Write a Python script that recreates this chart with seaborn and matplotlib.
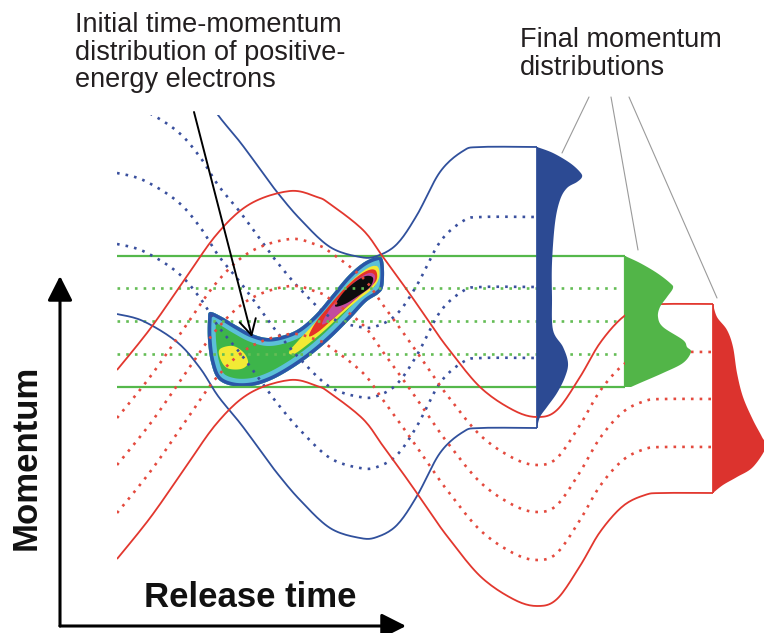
import numpy as np
import pandas as pd
import matplotlib
matplotlib.use("Agg")
import matplotlib.pyplot as plt
from matplotlib.patches import Polygon, Rectangle
import seaborn as sns

# ---------------------------------------------------------------- data
# Canvas units are pixels, y grows downward (time to the right, momentum up).

# Common shape of the blue trajectory family: offset from the final plateau
blue_profile_x = [117, 143, 177, 200, 218, 240, 260, 277, 300, 330, 360, 377,
                  397, 417, 440, 463, 480, 537]
blue_profile_dy = [-114, -107, -86, -60, -32, -5, 22, 45, 72, 100, 110, 109,
                   97, 68, 25, 4, 0, 0]
blue_levels = [147, 217, 287, 358, 428]
blue_solid = [True, False, False, False, True]

# Common shape of the red trajectory family
red_profile_x = [117, 150, 183, 217, 250, 290, 317, 330, 363, 383, 407, 430,
                 447, 480, 513, 537, 557, 580, 600, 623, 645, 662, 713]
red_profile_dy = [66, 25, -22, -70, -100, -113, -107, -100, -74, -47, -14, 19,
                  43, 83, 106, 113, 106, 73, 39, 13, 2, 0, 0]
red_levels = [304, 352, 399, 447, 493]
red_solid = [True, False, False, False, True]

# Green (constant-momentum) band
green_solid_y = [256, 387]
green_dotted_y = [288, 321, 354]

# Final momentum distributions: baseline position, momentum samples, widths
blue_base = 537
blue_dist_y = [147, 153, 163, 172, 177, 182, 188, 200, 223, 263, 297, 330,
               347, 363, 377, 393, 407, 417, 428]
blue_dist_w = [0, 16, 33, 43, 45, 40, 30, 23, 18, 15, 15, 16, 26, 31, 28, 20,
               10, 3, 0]

green_base = 625
green_dist_y = [256, 263, 273, 283, 288, 297, 307, 317, 327, 340, 347, 352,
                363, 373, 383, 387]
green_dist_w = [0, 15, 32, 45, 48, 42, 35, 33, 38, 58, 62, 66, 58, 38, 15, 6]

red_base = 713
red_dist_y = [304, 317, 330, 347, 373, 397, 420, 437, 447, 467, 477, 485, 493]
red_dist_w = [0, 4, 14, 20, 24, 30, 40, 49, 53, 40, 24, 10, 0]

# Initial time-momentum distribution: nested contour outlines
blob_outer = [(210, 312), (222, 317), (237, 326), (252, 334), (268, 338),
              (285, 335), (300, 328), (316, 314), (332, 295), (348, 276),
              (363, 263), (376, 257), (382, 258), (384, 270), (383, 287),
              (378, 294), (366, 302), (351, 318), (331, 338), (311, 355),
              (291, 369), (271, 380), (252, 386), (233, 386), (218, 379),
              (211, 362), (208, 340), (208, 320)]
blob_yellow_left = [(220, 349), (233, 346), (244, 353), (248, 363),
                    (241, 369), (227, 368), (220, 358)]
blob_yellow_right = [(289, 352), (298, 341), (312, 326), (327, 309),
                     (342, 291), (357, 276), (370, 267), (378, 267),
                     (379, 278), (372, 289), (358, 300), (342, 314),
                     (325, 330), (307, 345), (294, 354)]
blob_red = [(309, 336), (316, 322), (329, 306), (343, 290), (357, 277),
            (369, 270), (376, 271), (376, 281), (364, 292), (349, 305),
            (333, 319), (318, 332)]
blob_magenta = [(322, 324), (330, 309), (343, 294), (357, 280), (369, 273),
                (375, 276), (372, 286), (359, 296), (344, 309), (331, 320)]
blob_black = [(335, 306), (343, 293), (355, 282), (366, 276), (373, 278),
              (370, 287), (358, 296), (345, 304)]

# Pointer lines from the "Final momentum" label to each distribution
pointer_start = [(589, 97), (611, 97), (629, 97)]
pointer_end = [(562, 153), (638, 250), (717, 298)]

# ---------------------------------------------------------------- style
BLUE = "#30509c"
RED = "#e2372e"
GREEN = "#55b84b"
BLUE_FILL = "#2c4a93"
GREEN_FILL = "#52b548"
RED_FILL = "#dc332e"
TEXT = "#231f20"

sns.set_theme(style="white")
plt.rcParams["font.family"] = ["Liberation Sans", "DejaVu Sans"]


def smooth(points, closed=False, n=12):
    """Catmull-Rom curve through the given control points (for drawing)."""
    P = np.asarray(points, float)
    if closed:
        P = np.vstack([P[-1], P, P[0], P[1]])
    else:
        P = np.vstack([P[0], P, P[-1]])
    t = np.linspace(0, 1, n, endpoint=False)[:, None]
    out = []
    for i in range(1, len(P) - 2):
        p0, p1, p2, p3 = P[i - 1], P[i], P[i + 1], P[i + 2]
        out.append(0.5 * (2 * p1 + (-p0 + p2) * t
                          + (2 * p0 - 5 * p1 + 4 * p2 - p3) * t ** 2
                          + (-p0 + 3 * p1 - 3 * p2 + p3) * t ** 3))
    out.append(P[-2][None])
    return np.vstack(out)


fig = plt.figure(figsize=(7.64, 6.33), dpi=100)
ax = fig.add_axes([0, 0, 1, 1])

clip_rect = Rectangle((117, 115), 700, 520, transform=ax.transData)


def draw_line(xs, ys, color, solid, z=2, clip=True, lw=None):
    sns.lineplot(x=xs, y=ys, sort=False, estimator=None, color=color, ax=ax,
                 legend=False)
    ln = ax.lines[-1]
    ln.set_zorder(z)
    if solid:
        ln.set_linewidth(lw or 1.3)
        ln.set_solid_capstyle("butt")
    else:
        ln.set_linewidth(1.9)
        ln.set_dashes((1.0, 2.3))
        ln.set_dash_capstyle("butt")
    if clip:
        ln.set_clip_path(clip_rect)


# ---- initial distribution (nested contour bands)
outer = smooth(blob_outer, closed=True)
base = Polygon(outer, closed=True, facecolor="#3db54a", edgecolor="none", zorder=1)
ax.add_patch(base)
for lw, col in [(11.5, "#5cc0d8"), (5.2, "#2a56a8")]:
    ring = Polygon(outer, closed=True, fill=False, edgecolor=col, lw=lw,
                   joinstyle="round", zorder=1.1)
    ax.add_patch(ring)
    ring.set_clip_path(base)
for pts, col in [(blob_yellow_left, "#f2ea35"), (blob_yellow_right, "#f2ea35"),
                 (blob_red, "#e53128"), (blob_magenta, "#c24a9e"),
                 (blob_black, "#0d0d0d")]:
    ax.add_patch(Polygon(smooth(pts, closed=True), closed=True, facecolor=col,
                         edgecolor="none", zorder=1.2))

# ---- green band
for y in green_solid_y:
    draw_line([117, green_base], [y, y], GREEN, True, clip=False, lw=1.6)
for y in green_dotted_y:
    draw_line([117, 620], [y, y], "#64bd55", False, clip=False)
draw_line([green_base, green_base], green_solid_y, GREEN, True, clip=False, lw=1.6)

# ---- blue trajectories
bp = smooth(list(zip(blue_profile_x, blue_profile_dy)))
for lev, solid in zip(blue_levels, blue_solid):
    draw_line(bp[:, 0], bp[:, 1] + lev, BLUE if solid else "#3a509e", solid)
draw_line([blue_base, blue_base], [blue_levels[0], blue_levels[-1]], BLUE, True,
          clip=False)

# ---- red trajectories
rp = smooth(list(zip(red_profile_x, red_profile_dy)))
for lev, solid in zip(red_levels, red_solid):
    draw_line(rp[:, 0], rp[:, 1] + lev, RED if solid else "#e44a3e", solid)
draw_line([red_base, red_base], [red_levels[0], red_levels[-1]], RED, True,
          clip=False)


# ---- final momentum distributions
def dist(base_x, ys, ws, color):
    outline = smooth(list(zip([base_x + w for w in ws], ys)), n=10)
    poly = np.vstack([[base_x, ys[0]], outline, [base_x, ys[-1]]])
    ax.add_patch(Polygon(poly, closed=True, facecolor=color, edgecolor="none",
                         zorder=3))


dist(blue_base, blue_dist_y, blue_dist_w, BLUE_FILL)
dist(green_base, green_dist_y, green_dist_w, GREEN_FILL)
dist(red_base, red_dist_y, red_dist_w, RED_FILL)

# ---- pointer lines and annotation arrow
for (x0, y0), (x1, y1) in zip(pointer_start, pointer_end):
    ax.plot([x0, x1], [y0, y1], color="#9a9a9a", lw=0.8, zorder=4)

ax.annotate("", xy=(252, 337), xytext=(194, 112),
            arrowprops=dict(arrowstyle="->,head_length=0.55,head_width=0.3",
                            color="black", lw=1.4, mutation_scale=20,
                            shrinkA=0, shrinkB=0), zorder=5)

# ---- axis arrows
for end in [(60, 276), (406, 626)]:
    ax.annotate("", xy=end, xytext=(60, 626),
                arrowprops=dict(arrowstyle="-|>,head_length=0.75,head_width=0.38",
                                color="black", lw=2.2, mutation_scale=20,
                                shrinkA=0, shrinkB=0), zorder=5)

# ---- text
for txt, yb in zip(["Initial time-momentum", "distribution of positive-",
                    "energy electrons"], [32, 60, 87]):
    ax.text(75, yb, txt, fontsize=19.5, color=TEXT, va="baseline", ha="left")
for txt, yb in zip(["Final momentum", "distributions"], [47, 75]):
    ax.text(520, yb, txt, fontsize=19.5, color=TEXT, va="baseline", ha="left")
ax.text(250, 607, "Release time", fontsize=25, fontweight="bold", color="#111",
        va="baseline", ha="center")
ax.text(26, 457, "Momentum", fontsize=25, fontweight="bold", color="#111",
        rotation=90, va="center", ha="center")

ax.set_xlim(0, 764)
ax.set_ylim(633, 0)
ax.axis("off")
fig.savefig("out.png", dpi=100, facecolor="white")
